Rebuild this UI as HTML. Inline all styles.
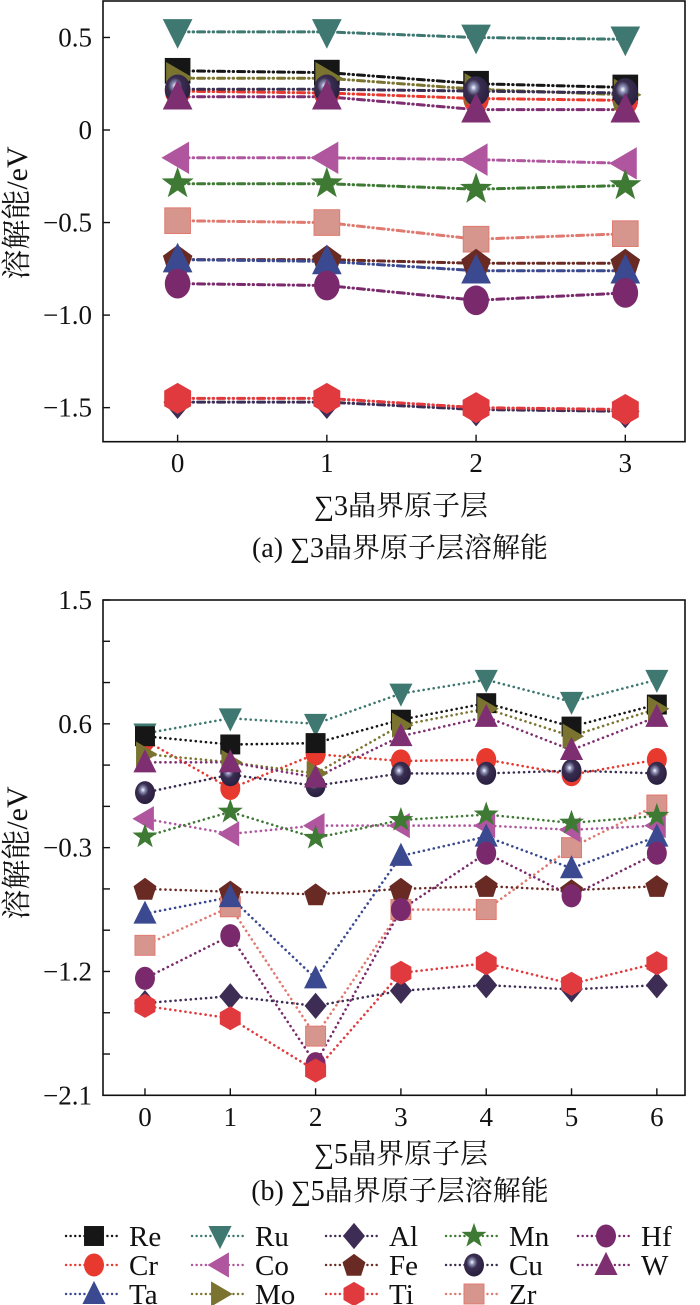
<!DOCTYPE html>
<html><head><meta charset="utf-8"><style>
html,body{margin:0;padding:0;background:#fff;}
svg{display:block;}
text{font-family:"Liberation Serif","Noto Serif CJK SC","Noto Sans CJK SC",serif;fill:#111;}
</style></head><body>
<svg id="fig" width="700" height="1305" viewBox="0 0 700 1305" xmlns="http://www.w3.org/2000/svg">
<defs>
<radialGradient id="cuGrad" cx="0.4" cy="0.38" r="0.6">
<stop offset="0" stop-color="#ffffff"/><stop offset="0.18" stop-color="#8e93b8"/><stop offset="0.45" stop-color="#3a2e50"/><stop offset="1" stop-color="#2a2040"/>
</radialGradient>
</defs>
</svg>
<script>
const series = ["Re","Cr","Ta","Ru","Co","Mo","Al","Fe","Ti","Mn","Cu","Zr","Hf","W"];
const xCatsA = [0,1,2,3];
const xCatsB = [0,1,2,3,4,5,6];
const yTicksA = [0.5,0,-0.5,-1.0,-1.5];
const yTickLabelsA = ["0.5","0","\u22120.5","\u22121.0","\u22121.5"];
const yTicksB = [1.5,1.2,0.9,0.6,0.3,0,-0.3,-0.6,-0.9,-1.2,-1.5,-1.8,-2.1];
const yTickLabelsB = {"1.5":"1.5","0.6":"0.6","-0.3":"\u22120.3","-1.2":"\u22121.2","-2.1":"\u22122.1"};
// Σ3 data
const a_Re=[0.32,0.31,0.25,0.23];
const a_Mo=[0.28,0.28,0.22,0.19];
const a_Cu=[0.22,0.22,0.21,0.20];
const a_Cr=[0.21,0.20,0.17,0.16];
const a_W =[0.18,0.18,0.11,0.11];
const a_Ru=[0.53,0.53,0.50,0.49];
const a_Co=[-0.15,-0.15,-0.16,-0.18];
const a_Mn=[-0.29,-0.29,-0.32,-0.30];
const a_Zr=[-0.49,-0.50,-0.59,-0.56];
const a_Fe=[-0.70,-0.70,-0.72,-0.72];
const a_Ta=[-0.70,-0.71,-0.76,-0.76];
const a_Hf=[-0.83,-0.84,-0.92,-0.88];
const a_Al=[-1.47,-1.47,-1.51,-1.52];
const a_Ti=[-1.45,-1.45,-1.50,-1.51];
// Σ5 data
const b_Ru=[0.53,0.64,0.60,0.82,0.92,0.76,0.92];
const b_Re=[0.51,0.45,0.46,0.63,0.75,0.58,0.74];
const b_Mo=[0.38,0.32,0.24,0.59,0.71,0.51,0.71];
const b_W =[0.32,0.32,0.21,0.51,0.65,0.41,0.65];
const b_Cr=[0.48,0.13,0.38,0.33,0.34,0.23,0.34];
const b_Cu=[0.10,0.23,0.15,0.24,0.24,0.26,0.24];
const b_Co=[-0.09,-0.20,-0.14,-0.14,-0.14,-0.17,-0.14];
const b_Mn=[-0.22,-0.04,-0.23,-0.10,-0.06,-0.12,-0.07];
const b_Ta=[-0.78,-0.66,-1.25,-0.36,-0.22,-0.45,-0.22];
const b_Hf=[-1.25,-0.94,-1.87,-0.75,-0.34,-0.65,-0.34];
const b_Fe=[-0.60,-0.62,-0.64,-0.60,-0.58,-0.61,-0.58];
const b_Zr=[-1.01,-0.73,-1.67,-0.75,-0.75,-0.30,0.01];
const b_Ti=[-1.45,-1.54,-1.92,-1.21,-1.14,-1.29,-1.14];
const b_Al=[-1.43,-1.38,-1.45,-1.34,-1.30,-1.33,-1.30];

const dataA={Re:a_Re,Mo:a_Mo,Cu:a_Cu,Cr:a_Cr,W:a_W,Ru:a_Ru,Co:a_Co,Mn:a_Mn,Zr:a_Zr,Fe:a_Fe,Ta:a_Ta,Hf:a_Hf,Al:a_Al,Ti:a_Ti};
const dataB={Re:b_Re,Mo:b_Mo,Cu:b_Cu,Cr:b_Cr,W:b_W,Ru:b_Ru,Co:b_Co,Mn:b_Mn,Zr:b_Zr,Fe:b_Fe,Ta:b_Ta,Hf:b_Hf,Al:b_Al,Ti:b_Ti};
const drawOrder=["Zr","Co","Mn","Fe","Ta","Hf","Al","Ti","Ru","Cr","Re","Mo","Cu","W"];
const colors={Re:"#161616",Cr:"#e8392f",Ta:"#3b4a90",Ru:"#3e7870",Co:"#b0569f",Mo:"#7a7430",Al:"#3d2d55",Fe:"#6a2a24",Ti:"#e03a3e",Mn:"#3f7a35",Cu:"#3a2e50",Zr:"#d6968e",Hf:"#7a2a6c",W:"#7e2f72"};
const lineColors=Object.assign({},colors,{Zr:"#e07a70"});
const NS="http://www.w3.org/2000/svg";
const svg=document.getElementById("fig");
function el(tag,attrs,parent){const e=document.createElementNS(NS,tag);for(const k in attrs)e.setAttribute(k,attrs[k]);(parent||svg).appendChild(e);return e;}
function poly(n,r,rot,cx,cy){const p=[];for(let i=0;i<n;i++){const a=rot+i*2*Math.PI/n;p.push((cx+r*Math.cos(a)).toFixed(1)+","+(cy+r*Math.sin(a)).toFixed(1));}return p.join(" ");}
function marker(name,cx,cy,s,g){
  const c=colors[name];let m;
  switch(name){
    case "Re": m=el("rect",{x:cx-s*0.95,y:cy-s*0.95,width:s*1.9,height:s*1.9,fill:c},g);break;
    case "Zr": m=el("rect",{x:cx-s*0.95,y:cy-s*0.95,width:s*1.9,height:s*1.9,fill:c,stroke:"#e07a70","stroke-width":1},g);break;
    case "Cr": m=el("ellipse",{cx:cx,cy:cy,rx:s*0.95,ry:s*1.1,fill:c},g);break;
    case "Hf": m=el("ellipse",{cx:cx,cy:cy,rx:s*0.95,ry:s*1.1,fill:c},g);break;
    case "Cu": m=el("ellipse",{cx:cx,cy:cy,rx:s*0.95,ry:s*1.1,fill:"url(#cuGrad)"},g);break;
    case "Ta": case "W": m=el("polygon",{points:`${cx},${cy-s*1.25} ${cx+s*1.1},${cy+s*0.95} ${cx-s*1.1},${cy+s*0.95}`,fill:c},g);break;
    case "Ru": m=el("polygon",{points:`${cx-s*1.1},${cy-s*0.95} ${cx+s*1.1},${cy-s*0.95} ${cx},${cy+s*1.25}`,fill:c},g);break;
    case "Co": m=el("polygon",{points:`${cx-s*1.2},${cy} ${cx+s*0.85},${cy-s*1.2} ${cx+s*0.85},${cy+s*1.2}`,fill:c},g);break;
    case "Mo": m=el("polygon",{points:`${cx+s*1.2},${cy} ${cx-s*0.85},${cy-s*1.2} ${cx-s*0.85},${cy+s*1.2}`,fill:c},g);break;
    case "Al": m=el("polygon",{points:`${cx},${cy-s*1.25} ${cx+s*1.05},${cy} ${cx},${cy+s*1.25} ${cx-s*1.05},${cy}`,fill:c},g);break;
    case "Fe": m=el("polygon",{points:poly(5,s*1.15,-Math.PI/2,cx,cy+1),fill:c},g);break;
    case "Ti": m=el("polygon",{points:poly(6,s*1.15,-Math.PI/2,cx,cy),fill:c},g);break;
    case "Mn": {const p=[];for(let i=0;i<10;i++){const r=i%2?s*0.5:s*1.25;const a=-Math.PI/2+i*Math.PI/5;p.push((cx+r*Math.cos(a)).toFixed(1)+","+(cy+r*Math.sin(a)).toFixed(1));}
      m=el("polygon",{points:p.join(" "),fill:c},g);break;}
  }
  
  
  return m;
}
function makeChart(cfg){
  const g=el("g",{});
  
  
  const {L,R,T,B,x0,x1,y0,y1}=cfg;
  const sx=v=>L+(v-x0)/(x1-x0)*(R-L);
  const sy=v=>T+(y1-v)/(y1-y0)*(B-T);
  const frame=el("rect",{x:L,y:T,width:R-L,height:B-T,fill:"none",stroke:"#111","stroke-width":1.6},g);
  
  
  cfg.yTicks.forEach((t,i)=>{
    const y=sy(t);
    const tk=el("line",{x1:L,x2:L+7,y1:y,y2:y,stroke:"#111","stroke-width":1.4},g);
    
    
    const lab=cfg.yLabel(t,i);
    if(lab!==null){
      const tx=el("text",{x:L-11,y:y+9,"text-anchor":"end","font-size":27},g);
      tx.textContent=lab;
      
      
    }
  });
  cfg.xCats.forEach(c=>{
    const x=sx(c);
    const tk=el("line",{x1:x,x2:x,y1:B,y2:B-7,stroke:"#111","stroke-width":1.4},g);
    
    
    const tx=el("text",{x:x,y:cfg.xLabY,"text-anchor":"middle","font-size":27},g);
    tx.textContent=String(c);
    
    
  });
  const xt=el("text",{x:401,y:cfg.xTitleY,"text-anchor":"middle","font-size":28},g);
  xt.textContent=cfg.xTitle;
  
  
  const cap=el("text",{x:400,y:cfg.capY,"text-anchor":"middle","font-size":28},g);
  cap.textContent=cfg.caption;
  
  
  const yt=el("text",{x:0,y:0,"text-anchor":"middle","font-size":30,transform:`translate(27,${cfg.yTitleY}) rotate(-90)`},g);
  yt.textContent="溶解能/eV";
  
  
  drawOrder.forEach(n=>{
    const vals=cfg.data[n];
    const pts=vals.map((v,i)=>sx(cfg.xCats[i]).toFixed(1)+","+sy(v).toFixed(1)).join(" ");
    const ln=el("polyline",{points:pts,fill:"none",stroke:lineColors[n],"stroke-width":cfg.lw,"stroke-dasharray":cfg.dash,"stroke-linecap":"round"},g);
    
    
  });
  drawOrder.forEach(n=>{
    cfg.data[n].forEach((v,i)=>marker(n,sx(cfg.xCats[i]),sy(v),cfg.ms,g));
  });
}
makeChart({id:"chart-sigma3",L:103,R:685,T:1,B:441.7,x0:-0.5,x1:3.4,y0:-1.684,y1:0.697,
  yTicks:yTicksA,yLabel:(t,i)=>yTickLabelsA[i],xCats:xCatsA,data:dataA,
  xLabY:472,xTitleY:515,capY:557,yTitleY:213,xTitle:"∑3晶界原子层",caption:"(a) ∑3晶界原子层溶解能",
  lw:3,dash:"7 4 0.5 4 0.5 4",ms:13.5});
makeChart({id:"chart-sigma5",L:103,R:685,T:600,B:1095.3,x0:-0.492,x1:6.33,y0:-2.1,y1:1.5,
  yTicks:yTicksB,yLabel:(t)=>{const k=String(Math.round(t*10)/10);return yTickLabelsB[k]!==undefined?yTickLabelsB[k]:null;},xCats:xCatsB,data:dataB,
  xLabY:1126,xTitleY:1163,capY:1200,yTitleY:853,xTitle:"∑5晶界原子层",caption:"(b) ∑5晶界原子层溶解能",
  lw:2.6,dash:"0.1 5",ms:10.5});
// legend
const legendCols=[66,192,326,446,578];
const legendRows=[1236,1265,1294];
const legendLayout=[["Re","Cr","Ta"],["Ru","Co","Mo"],["Al","Fe","Ti"],["Mn","Cu","Zr"],["Hf","W"]];
const lg=el("g",{});


legendLayout.forEach((col,ci)=>col.forEach((n,ri)=>{
  const x=legendCols[ci],y=legendRows[ri];
  const eg=el("g",{},lg);
  
  
  el("line",{x1:x,x2:x+54,y1:y,y2:y,stroke:lineColors[n],"stroke-width":2.4,"stroke-dasharray":"0.1 4.5","stroke-linecap":"round"},eg);
  marker(n,x+28,y,10.5,eg);
  const t=el("text",{x:x+63,y:y+10,"font-size":29},eg);
  t.textContent=n;
}));
</script>
</body></html>
